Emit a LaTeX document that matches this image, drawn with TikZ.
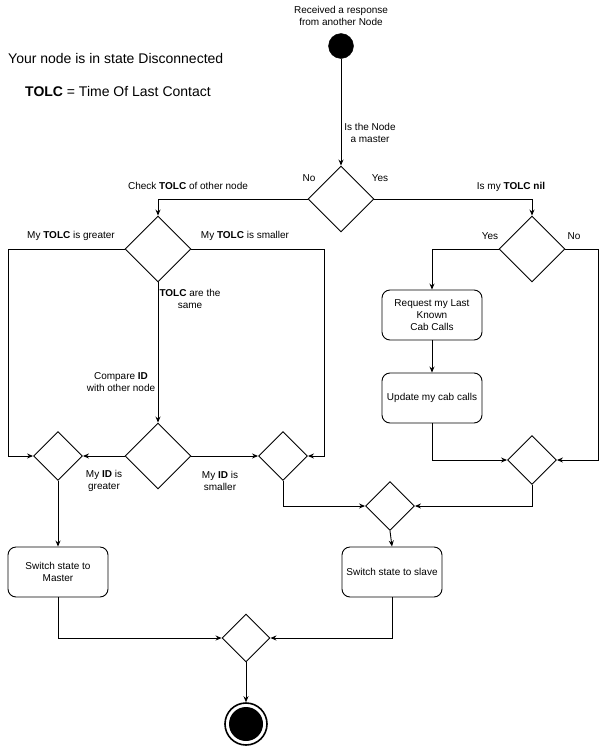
\documentclass[tikz,border=0pt]{standalone}
\usepackage{fontspec}
\setmainfont{Liberation Sans}
\usetikzlibrary{shapes.geometric,arrows.meta}
\begin{document}
\begin{tikzpicture}[x=1pt,y=-1pt,
  every node/.style={font=\fontsize{10pt}{12pt}\selectfont, text=black},
  dia/.style={draw, diamond, inner sep=0pt, minimum width=#1, minimum height=#1, line width=0.9pt},
  dia/.default=66pt,
  box/.style={draw, rectangle, rounded corners=8pt, minimum width=100pt, minimum height=50pt, align=center, line width=0.9pt, inner sep=2pt},
  lab/.style={align=center, inner sep=0pt},
  arr/.style={line width=0.9pt, -{Stealth[length=6pt,width=5pt]}},
  ln/.style={line width=0.9pt}]
\useasboundingbox (0,0) rectangle (605,747);

% texts at top
\node[lab] (rcv) at (341,16) {Received a response\\from another Node};
\node[lab, anchor=west, font=\fontsize{14pt}{16pt}\selectfont] (state) at (8,58) {Your node is in state Disconnected};
\node[lab, anchor=west, font=\fontsize{14pt}{16pt}\selectfont] (tolc) at (25,91) {\textbf{TOLC} = Time Of Last Contact};

% nodes
\node[draw, circle, fill=black, minimum size=25pt, inner sep=0pt] (start) at (341,46) {};
\node[dia] (d1) at (341,199) {};
\node[dia] (d2) at (158,249) {};
\node[dia] (d3) at (532,249) {};
\node[dia] (d5) at (158,456) {};
\node[dia=49pt] (d4) at (58,456) {};
\node[dia=49pt] (d6) at (283,456) {};
\node[dia=49pt] (d7) at (390,506) {};
\node[dia=49pt] (d8) at (532,460) {};
\node[dia=48pt] (dfin) at (246,638) {};
\node[box] (req) at (432,315) {Request my Last\\Known\\Cab Calls};
\node[box] (upd) at (432,398) {Update my cab calls};
\node[box] (master) at (58,572) {Switch state to\\Master};
\node[box] (slave) at (392,572) {Switch state to slave};
\node[draw, circle, line width=1.6pt, minimum size=42pt, inner sep=0pt] (end) at (246,724) {};
\node[circle, fill=black, minimum size=34pt, inner sep=0pt] (endin) at (246,724) {};

% helper coordinates
\coordinate (lft) at (8,350);
\coordinate (rgt) at (324,350);
\coordinate (far) at (598,350);

% connectors
\draw[arr] (start) -- (d1.north);
\draw[arr] (d1.west) -| (d2.north);
\draw[arr] (d1.east) -| (d3.north);
\draw[ln] (d2.west) -| (lft);
\draw[arr] (lft) |- (d4.west);
\draw[ln] (d2.east) -| (rgt);
\draw[arr] (rgt) |- (d6.east);
\draw[arr] (d2.south) -- (d5.north);
\draw[arr] (d5.west) -- (d4.east);
\draw[arr] (d5.east) -- (d6.west);
\draw[arr] (d6.south) |- (d7.west);
\draw[arr] (d3.west) -| (req.north);
\draw[arr] (req.south) -- (upd.north);
\draw[arr] (upd.south) |- (d8.west);
\draw[ln] (d3.east) -| (far);
\draw[arr] (far) |- (d8.east);
\draw[arr] (d8.south) |- (d7.east);
\draw[arr] (d7.south) -- (slave.north);
\draw[arr] (d4.south) -- (master.north);
\draw[arr] (master.south) |- (dfin.west);
\draw[arr] (slave.south) |- (dfin.east);
\draw[arr] (dfin.south) -- (end.north);

% labels
\node[lab] (lmaster) at (370,133) {Is the Node\\a master};
\node[lab] (lno1) at (309,178) {No};
\node[lab] (lyes1) at (380,178) {Yes};
\node[lab] (lcheck) at (188,186) {Check \textbf{TOLC} of other node};
\node[lab] (lnil) at (511,187) {Is my \textbf{TOLC nil}};
\node[lab] (lgreat) at (71,236) {My \textbf{TOLC} is greater};
\node[lab] (lsmall) at (245,236) {My \textbf{TOLC} is smaller};
\node[lab] (lsame) at (190,299) {\textbf{TOLC} are the\\same};
\node[lab] (lcomp) at (121,382) {Compare \textbf{ID}\\with other node};
\node[lab] (lidg) at (104,481) {My \textbf{ID} is\\greater};
\node[lab] (lids) at (220,481) {My \textbf{ID} is\\smaller};
\node[lab] (lyes2) at (490,236) {Yes};
\node[lab] (lno2) at (574,236) {No};
\end{tikzpicture}
\end{document}
